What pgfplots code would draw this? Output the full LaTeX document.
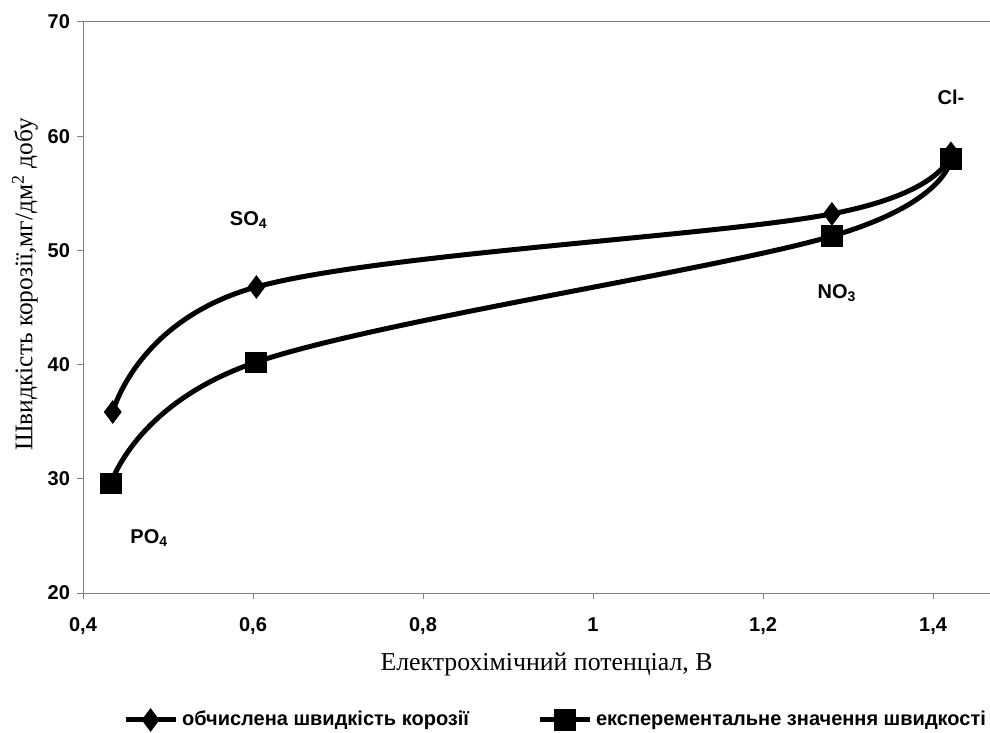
\documentclass[border=0pt]{standalone}
\usepackage{pgfplots}
\pgfplotsset{compat=1.18}
\usepackage{fontspec}
\setmainfont{Liberation Serif}
\newfontfamily\arial{Liberation Sans}

\begin{document}
\begin{tikzpicture}
\begin{axis}[
    scale only axis,
    width=453.5pt,
    height=285.5pt,
    xmin=0.4, xmax=1.467,
    ymin=20, ymax=70,
    xtick={0.4,0.6,0.8,1,1.2,1.4},
    ytick={20,30,40,50,60,70},
    axis x line*=bottom,
    axis y line*=left,
    axis line style={gray, line width=0.5pt, -},
    tick align=outside,
    major tick length=3pt,
    tick style={gray, line width=0.5pt},
    /pgf/number format/use comma,
    /pgf/number format/assume math mode=true,
    tick label style={font=\arial\bfseries\fontsize{10}{12}\selectfont},
    xticklabel style={yshift=-5pt, text height=7.5pt, text depth=2pt},
    xlabel={Електрохімічний потенціал, В},
    xlabel style={font=\fontsize{12.9}{15}\selectfont, yshift=-2pt, xshift=5pt},
    ylabel={Швидкість корозії,мг/дм\textsuperscript{2} добу},
    ylabel style={font=\fontsize{12.7}{15}\selectfont, yshift=-2pt, xshift=11.5pt},
    legend columns=2,
    legend style={draw=none, fill=none, at={(0.5,-0.2224)}, anchor=center, xshift=10pt,
        font=\arial\bfseries\fontsize{10}{12}\selectfont,
        /tikz/every even column/.append style={column sep=32pt}},
    legend image code/.code={
        \draw[#1, line width=2.5pt] (0pt,0pt) -- (25pt,0pt);
        \draw[#1, mark repeat=2, mark phase=2] plot coordinates {(0pt,0pt) (12.5pt,0pt) (25pt,0pt)};
    },
    clip=false,
]
\draw[gray, line width=0.5pt] (rel axis cs:0,1) -- (rel axis cs:1,1);

\addplot[black, line width=2.5pt, smooth, tension=0.6,
    mark=diamond*, mark size=5.6pt, mark options={solid, line width=0.4pt, fill=black}]
    coordinates {(0.435,35.85) (0.604,46.8) (1.281,53.2) (1.421,58.5)};
\addplot[black, line width=2.5pt, smooth, tension=0.6,
    mark=square*, mark size=5.2pt, mark options={solid, line width=0.4pt, fill=black}]
    coordinates {(0.433,29.6) (0.603,40.2) (1.281,51.25) (1.421,58.0)};

\legend{обчислена швидкість корозії, експерементальне значення швидкості}

\node[font=\arial\bfseries\fontsize{10}{12}\selectfont] at (axis cs:0.595,52.7) {SO\textsubscript{4}};
\node[font=\arial\bfseries\fontsize{10}{12}\selectfont] at (axis cs:1.287,46.3) {NO\textsubscript{3}};
\node[font=\arial\bfseries\fontsize{10}{12}\selectfont] at (axis cs:1.421,63.4) {Cl-};
\node[font=\arial\bfseries\fontsize{10}{12}\selectfont] at (axis cs:0.478,24.8) {PO\textsubscript{4}};
\end{axis}
\pgfresetboundingbox
\path ([shift={(-41.5pt,-70pt)}]current axis.south west) rectangle ([shift={(0pt,11pt)}]current axis.north east);
\end{tikzpicture}
\end{document}
